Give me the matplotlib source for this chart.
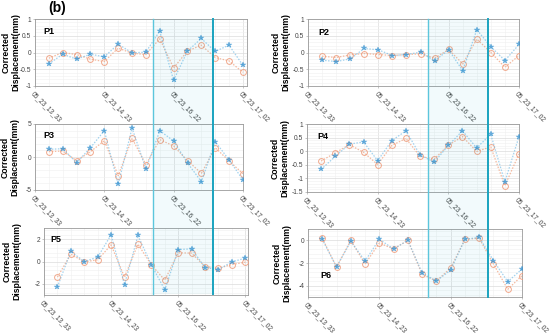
import matplotlib
matplotlib.use("Agg")
import matplotlib.pyplot as plt
from matplotlib.patches import Rectangle
from matplotlib.lines import Line2D
from matplotlib.ticker import MultipleLocator, AutoMinorLocator

plt.rcParams["font.family"] = ["Liberation Sans", "DejaVu Sans"]

# sample index of each epoch (1..15), tick positions and their labels
idx = list(range(1, 16))
tick_pos = [0, 5, 10, 15]
tick_labels = ["05_23_13_33", "05_23_14_23", "05_23_16_22", "05_23_17_02"]

# corrected displacement (mm): blue = series A (stars), orange = series B (circles)
p1_blue = [-0.34, -0.05, -0.20, -0.05, -0.13, 0.25, -0.01, 0.01, 0.64, -0.83, 0.04, 0.42, 0.03, 0.22, -0.38]
p1_orange = [-0.17, 0.00, -0.06, -0.20, -0.27, 0.13, -0.02, -0.06, 0.41, -0.46, 0.04, 0.22, -0.15, -0.25, -0.59]
p2_blue = [-0.23, -0.27, -0.19, 0.12, 0.08, -0.09, -0.06, 0.01, -0.25, 0.08, -0.54, 0.68, 0.17, -0.24, 0.24]
p2_orange = [-0.11, -0.15, -0.07, -0.03, -0.06, -0.09, -0.06, -0.04, -0.17, 0.09, -0.34, 0.40, 0.00, -0.44, -0.09]
p3_blue = [1.16, 1.26, -0.86, 1.41, 3.99, -4.14, 4.39, -1.82, 3.99, 2.42, -0.91, -3.74, 2.32, -0.45, -3.48]
p3_orange = [0.81, 0.91, -0.56, 0.81, 2.47, -2.83, 2.83, -1.16, 2.63, 1.67, -0.56, -2.47, 1.41, -0.61, -2.53]
p4_blue = [-0.67, -0.19, 0.26, 0.34, -0.35, 0.39, 0.75, -0.14, -0.40, 0.21, 0.75, 0.12, 0.62, -1.13, 0.54]
p4_orange = [-0.36, -0.06, 0.24, -0.04, -0.49, 0.21, 0.47, -0.19, -0.29, 0.22, 0.54, -0.01, 0.16, -1.27, -0.10]
p5_blue = [-2.27, 0.90, 0.00, 0.39, 2.39, -2.09, 2.33, -0.30, -2.54, 1.07, 1.13, -0.54, -0.72, -0.03, 0.30]
p5_orange = [-1.40, 0.66, -0.03, 0.15, 1.49, -1.40, 1.55, -0.30, -1.67, 0.78, 0.75, -0.45, -0.60, -0.27, -0.06]
p6_blue = [0.09, -2.35, -0.09, -1.82, 0.09, -0.76, 0.00, -2.88, -3.59, -2.62, 0.09, 0.26, -1.79, -3.65, -2.53]
p6_orange = [0.18, -2.35, 0.00, -2.09, -0.24, -0.76, 0.00, -3.00, -3.59, -2.44, 0.09, 0.18, -2.09, -4.32, -3.12]

W, H = 550, 335
fig = plt.figure(figsize=(W / 100, H / 100), dpi=100)


def px_axes(l, t, r, b):
    return fig.add_axes([l / W, 1 - b / H, (r - l) / W, (b - t) / H])


# (name, blue, orange, box in pixels, xlim, ylim, yticks, yticklabels,
#  panel-label pos, x centre of the y label in pixels)
panels = [
    ("P1", p1_blue, p1_orange, (35, 19, 247, 86), (0, 15.3), (-1, 1),
     [-1, -0.5, 0, 0.5, 1], ["-1", "-0.5", "0", "0.5", "1"], (0.04, 0.88), 11),
    ("P2", p2_blue, p2_orange, (308, 19, 519, 86), (0, 15), (-1, 1),
     [-1, -0.5, 0, 0.5, 1], ["-1", "-0.5", "0", "0.5", "1"], (0.05, 0.86), 281),
    ("P3", p3_blue, p3_orange, (35, 124, 243, 190), (0, 15), (-5, 5),
     [-5, 0, 5], ["-5", "0", "5"], (0.04, 0.90), 10),
    ("P4", p4_blue, p4_orange, (307, 124, 519, 192), (0, 15), (-1.5, 1),
     [-1.5, -1, -0.5, 0, 0.5, 1], ["-1.5", "-1", "-0.5", "0", "0.5", "1"], (0.05, 0.88), 280),
    ("P5", p5_blue, p5_orange, (44, 228, 248, 295), (0.65, 15.2), (-3, 3),
     [-2, 0, 2], ["-2", "0", "2"], (0.03, 0.90), 12),
    ("P6", p6_blue, p6_orange, (308, 229, 522, 297), (0, 15), (-5, 1),
     [-4, -2, 0], ["-4", "-2", "0"], (0.06, 0.38), 282),
]

blue_line, blue_mk = "#7cc0e8", "#2f8fd0"
orange_line, orange_mk = "#f2ae90", "#ef9a78"

for name, yb, yo, box, xl, yl, yt, ytl, lab, ylx in panels:
    ax = px_axes(*box)
    ax.plot(idx, yo, ls=(0, (1.2, 1.2)), lw=0.9, color=orange_line, alpha=0.85,
            marker="o", ms=4.2, mfc="none", mec=orange_mk, mew=0.7, zorder=3)
    ax.plot(idx, yb, ls=(0, (1.2, 1.2)), lw=0.9, color=blue_line, alpha=0.7,
            marker="*", ms=4.0, mfc=blue_mk, mec=blue_mk, mew=0.3, zorder=4)
    ax.set_xlim(*xl)
    ax.set_ylim(*yl)
    ax.set_xticks(tick_pos)
    ax.set_xticklabels(tick_labels, rotation=-45, ha="left", va="top",
                       rotation_mode="anchor", fontsize=4.8, color="#444444")
    ax.set_yticks(yt)
    ax.set_yticklabels(ytl, fontsize=4.8, color="#444444")
    ax.xaxis.set_minor_locator(MultipleLocator(1))
    ax.yaxis.set_minor_locator(AutoMinorLocator(5))
    ax.grid(which="major", color="#dcdcdc", lw=0.5)
    ax.grid(which="minor", color="#efefef", lw=0.4)
    ax.set_axisbelow(True)
    ax.tick_params(which="both", length=1.5, width=0.4, color="#999999", pad=1.2)
    ax.tick_params(which="minor", length=0)
    for sp in ax.spines.values():
        sp.set_color("#9a9a9a")
        sp.set_linewidth(0.6)
    ax.text(lab[0], lab[1], name, transform=ax.transAxes, fontsize=6.5,
            fontweight="bold", va="top", ha="left", zorder=6)
    l, t, r, b = box
    fig.text(ylx / W, 1 - (t + b) / 2 / H, "Corrected\nDisplacement(mm)",
             fontsize=6.2, fontweight="bold", rotation=90, ha="center",
             va="center", multialignment="center", linespacing=1.0)

# shaded time window spanning each column of panels
for l, r, t, b in [(153, 213, 19, 294), (428, 488, 19, 297)]:
    fig.patches.append(Rectangle((l / W, 1 - b / H), (r - l) / W, (b - t) / H,
                                 transform=fig.transFigure, facecolor="#00a8c8",
                                 alpha=0.05, edgecolor="none", zorder=10))
    fig.lines.append(Line2D([l / W, l / W], [1 - b / H, 1 - t / H],
                            transform=fig.transFigure, color="#5cc6dc", lw=1.0, zorder=11))
    fig.lines.append(Line2D([r / W, r / W], [1 - b / H, 1 - t / H],
                            transform=fig.transFigure, color="#1aa3bf", lw=1.4, zorder=11))

fig.text(57 / W, 1 - 8 / H, "(b)", fontsize=10, fontweight="bold", ha="center", va="center")

fig.savefig("out.png", dpi=100)
